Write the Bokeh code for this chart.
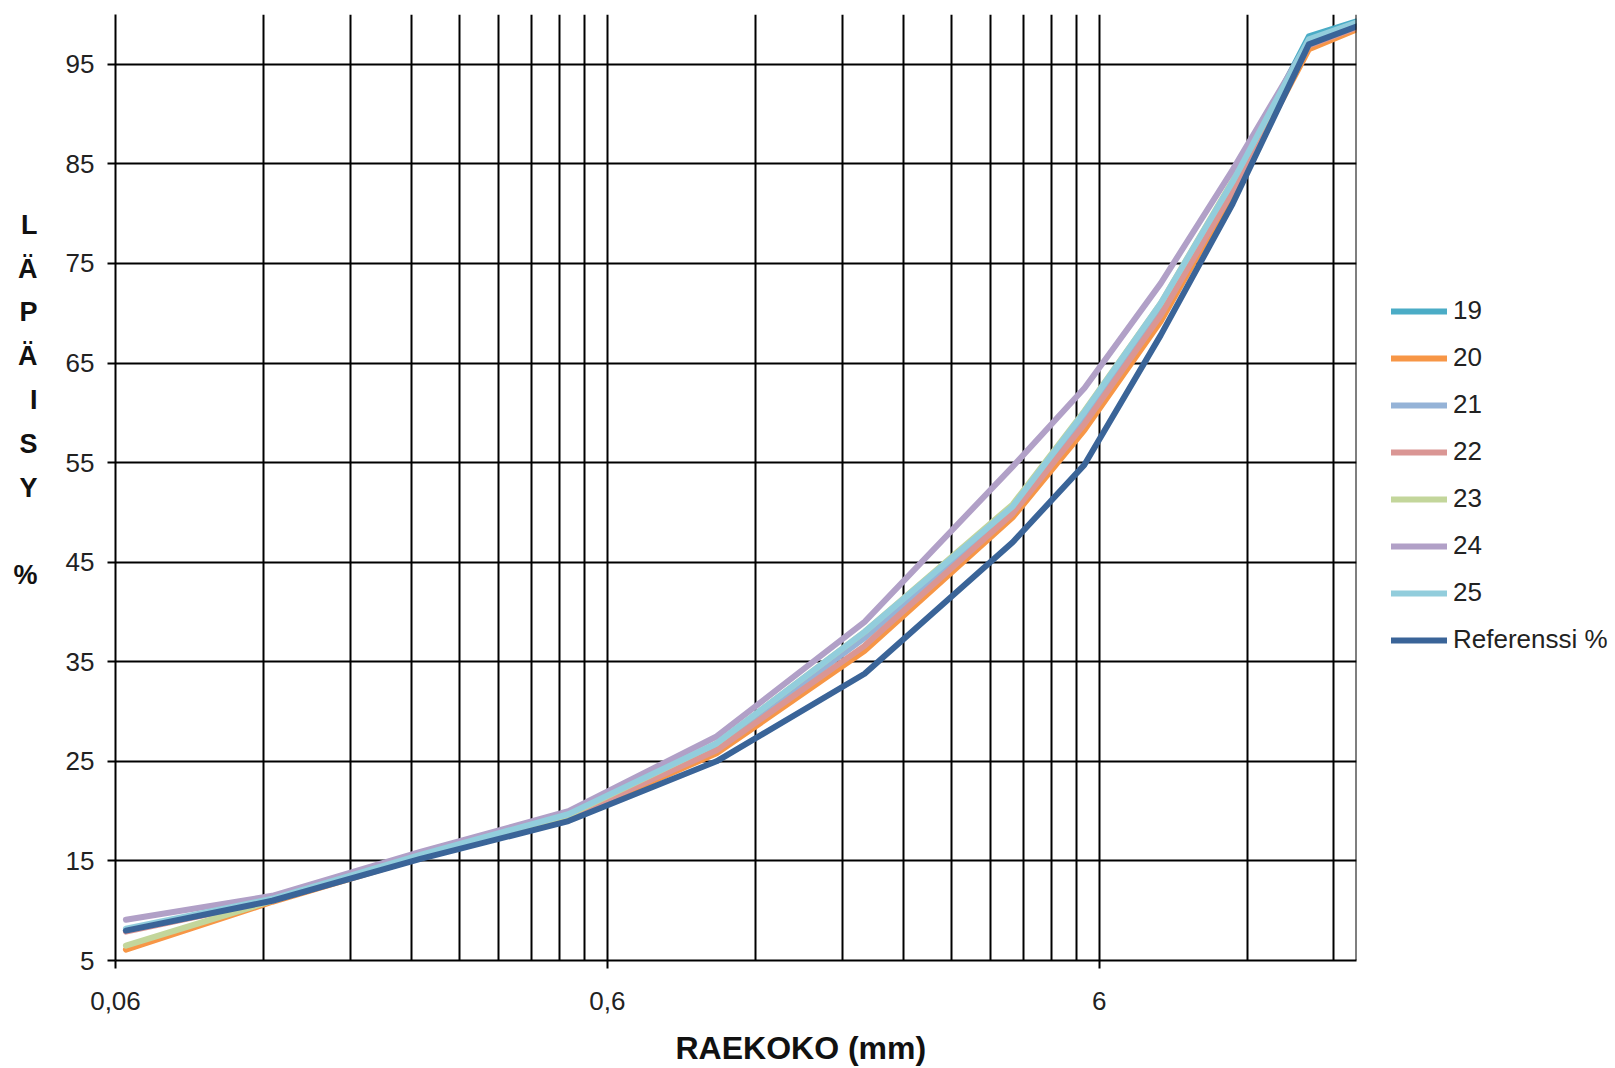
from bokeh.plotting import figure
from bokeh.models import FixedTicker, Span, Legend, LegendItem, Title
from bokeh.layouts import row
from bokeh.embed import file_html
from bokeh.resources import INLINE

# ---- data ----
sieve_mm = [0.063, 0.125, 0.25, 0.5, 1, 2, 4, 5.6, 8, 11.2, 16, 20]
s19 = [8.0, 11.1, 15.5, 19.6, 26.5, 37.6, 50.4, 59.8, 70.8, 83.0, 97.8, 99.3]
s20 = [6.1, 10.9, 15.3, 19.3, 25.8, 36.1, 49.5, 58.3, 69.2, 82.0, 96.5, 98.5]
s21 = [8.0, 11.1, 15.5, 19.5, 26.4, 37.4, 50.3, 59.7, 70.6, 83.0, 97.4, 99.0]
s22 = [7.9, 11.0, 15.4, 19.4, 26.1, 36.6, 49.9, 58.9, 69.8, 82.3, 96.9, 98.7]
s23 = [6.5, 11.0, 15.5, 19.6, 26.8, 38.0, 50.8, 60.2, 71.0, 83.3, 97.3, 99.0]
s24 = [9.1, 11.5, 15.9, 20.0, 27.5, 39.0, 54.6, 62.5, 73.0, 84.4, 97.3, 99.1]
s25 = [8.2, 11.2, 15.6, 19.7, 26.8, 38.0, 50.6, 60.1, 71.0, 83.2, 97.5, 99.2]
ref = [8.0, 11.0, 15.2, 19.0, 25.0, 33.8, 47.0, 54.8, 67.8, 81.0, 97.0, 98.8]

series_names = ["19", "20", "21", "22", "23", "24", "25", "Referenssi %"]
series_values = [s19, s20, s21, s22, s23, s24, s25, ref]
series_colors = ["#4BACC6", "#F79646", "#95B3D7", "#DA9694", "#C3D69B", "#B1A0C7", "#92CDDC", "#3A6498"]

x_major_ticks = [0.06, 0.6, 6]
x_tick_labels = {0.06: "0,06", 0.6: "0,6", 6: "6"}
x_minor_multipliers = [2, 3, 4, 5, 6, 7, 8, 9]
y_ticks = [5, 15, 25, 35, 45, 55, 65, 75, 85, 95]

x_title = "RAEKOKO (mm)"
y_title = "L\nÄ\nP\nÄ\nI\nS\nY\n\n%\n\n\n\n"

FONT = "Liberation Sans"

p = figure(frame_width=1241, frame_height=946, x_axis_type="log", x_range=(0.06, 20), y_range=(5, 100),
           output_backend="svg", toolbar_location=None,
           min_border_left=115, min_border_right=2, min_border_top=14, min_border_bottom=108)
p.outline_line_color = None
p.background_fill_color = "white"
p.border_fill_color = "white"

minor = [b * m for b in x_major_ticks for m in x_minor_multipliers if b * m < 20]
p.xaxis.ticker = FixedTicker(ticks=x_major_ticks, minor_ticks=minor)
p.xaxis.major_label_overrides = x_tick_labels
p.yaxis.ticker = FixedTicker(ticks=y_ticks, minor_ticks=[])

for ax in (p.xaxis[0], p.yaxis[0]):
    ax.axis_line_color = "black"
    ax.axis_line_width = 2
    ax.major_tick_line_color = "black"
    ax.major_tick_line_width = 2
    ax.major_tick_out = 8
    ax.major_tick_in = 0
    ax.minor_tick_line_color = None
    ax.major_label_text_font = FONT
    ax.major_label_text_font_size = "26px"
    ax.major_label_text_color = "#222222"
p.yaxis.major_label_standoff = 13
p.xaxis.major_label_standoff = 23

# stacked vertical y title
p.yaxis.axis_label = y_title
p.yaxis.axis_label_orientation = "horizontal"
p.yaxis.axis_label_text_font = FONT
p.yaxis.axis_label_text_font_size = "27px"
p.yaxis.axis_label_text_font_style = "bold"
p.yaxis.axis_label_text_color = "#111111"
p.yaxis.axis_label_text_line_height = 1.46
p.yaxis.axis_label_text_align = "center"
p.yaxis.axis_label_standoff = 25

p.xgrid.grid_line_color = "black"
p.xgrid.grid_line_width = 2
p.xgrid.minor_grid_line_color = "black"
p.xgrid.minor_grid_line_width = 2
p.ygrid.grid_line_color = "black"
p.ygrid.grid_line_width = 2

p.add_layout(Span(location=20, dimension="height", line_color="black", line_width=2))

for name, vals, col in zip(series_names, series_values, series_colors):
    p.line(sieve_mm, vals, line_color=col, line_width=6, line_join="round", line_cap="round")

p.add_layout(Title(text=x_title, align="left", offset=560, standoff=31,
                   text_font=FONT, text_font_size="32px", text_font_style="bold",
                   text_color="#111111"), "below")

# legend panel at the right (series drawn off-range so only legend glyphs show)
pl = figure(width=257, height=1068, output_backend="svg", toolbar_location=None,
            x_range=(1000, 2000), y_range=(1000, 2000), x_axis_location=None, y_axis_location=None,
            min_border=0)
pl.outline_line_color = None
pl.grid.visible = False
items = []
for name, vals, col in zip(series_names, series_values, series_colors):
    r = pl.line(sieve_mm, vals, line_color=col, line_width=6, line_cap="round")
    items.append(LegendItem(label=name, renderers=[r]))

legend = Legend(items=items, location=(33, 292), orientation="vertical")
legend.padding = 0
legend.margin = 0
legend.border_line_color = None
legend.background_fill_alpha = 0
legend.glyph_width = 56
legend.glyph_height = 30
legend.label_height = 30
legend.spacing = 16
legend.label_standoff = 6
legend.label_text_font = FONT
legend.label_text_font_size = "26px"
legend.label_text_color = "#222222"
pl.add_layout(legend)

open("out.html", "w").write(file_html(row(p, pl), INLINE))
